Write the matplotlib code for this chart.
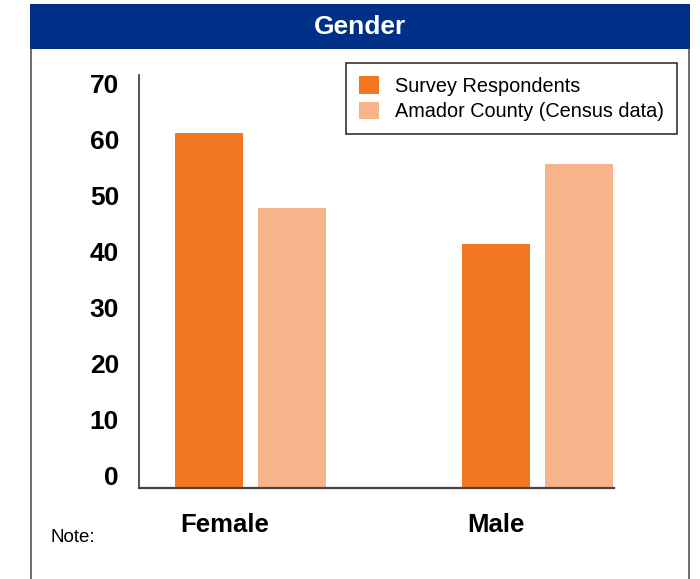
import matplotlib
matplotlib.use('Agg')
import matplotlib.pyplot as plt
import numpy as np
from matplotlib.patches import Rectangle
from matplotlib.lines import Line2D

plt.rcParams['font.family'] = ['Liberation Sans', 'DejaVu Sans']

categories = ['Female', 'Male']
survey = [60.2, 41.4]
census = [47.5, 54.9]
series_names = ['Survey Respondents', 'Amador County (Census data)']
yticks = [0, 10, 20, 30, 40, 50, 60, 70]

dark_orange = '#F37721'
light_orange = '#F7B48A'
navy = '#002F87'
edge = '#444444'

fig = plt.figure(figsize=(7, 5.79), dpi=100)

# header bar and side borders
fig.patches.append(Rectangle((30 / 700, 1 - 49 / 579), 660 / 700, 45 / 579,
                             transform=fig.transFigure, facecolor=navy,
                             edgecolor='none', zorder=0))
fig.text(360 / 700, 1 - 27 / 579, 'Gender', color='white', fontsize=19,
         fontweight='bold', ha='center', va='center')
for xp in (30.5 / 700, 689 / 700):
    fig.lines.append(Line2D([xp, xp], [0, 1 - 49 / 579], transform=fig.transFigure,
                            color=edge, lw=1.1))

ax = fig.add_axes([139 / 700, 91 / 579, 475 / 700, 413 / 579])
x = np.arange(len(categories))
w = 0.237
off = 0.1446
b1 = ax.bar(x - off, survey, w, color=dark_orange, label=series_names[0])
b2 = ax.bar(x + off, census, w, color=light_orange, label=series_names[1])

ax.set_xlim(-0.3885, 1.2666)
ax.set_ylim(0, 70)

# y labels sit slightly inside the axis range in the original
ax.set_yticks([2.2 + 0.949 * v for v in yticks])
ax.set_yticklabels([str(v) for v in yticks], fontsize=19, fontweight='bold')
ax.set_xticks(x - off - w / 2 + 0.017)
ax.set_xticklabels(categories, fontsize=18.5, fontweight='bold', ha='left')
ax.tick_params(axis='y', length=0, pad=14.4)
ax.tick_params(axis='x', length=0, pad=18)

for s in ('top', 'right'):
    ax.spines[s].set_visible(False)
ax.spines['left'].set_color('#333333')
ax.spines['left'].set_linewidth(1.2)
ax.spines['bottom'].set_color(edge)
ax.spines['bottom'].set_linewidth(1.6)

leg = fig.legend(handles=[b1, b2], loc='upper right',
                 bbox_to_anchor=(677 / 700, 1 - 63 / 579),
                 bbox_transform=fig.transFigure, fontsize=14.3,
                 fancybox=False, framealpha=1, borderaxespad=0,
                 handlelength=1.0, handleheight=1.0, handletextpad=0.8,
                 labelspacing=0.3, borderpad=0.65)
leg.get_frame().set_edgecolor('#222222')
leg.get_frame().set_linewidth(1.1)

fig.text(51 / 700, 1 - 537 / 579, 'Note:', fontsize=13.5, ha='left', va='center')

fig.savefig('out.png', dpi=100)
